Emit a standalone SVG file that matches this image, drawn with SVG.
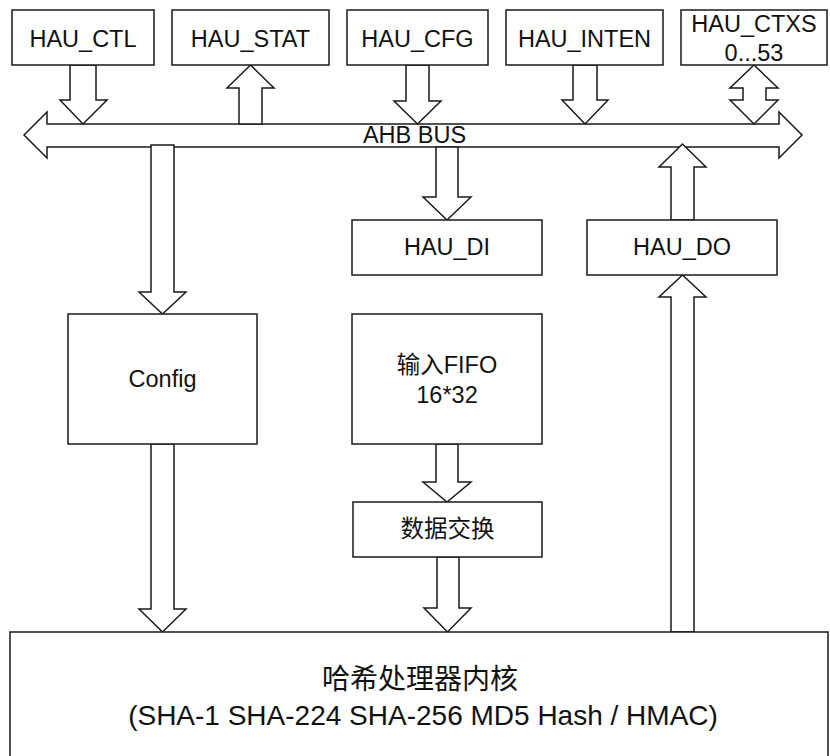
<svg xmlns="http://www.w3.org/2000/svg" width="830" height="756" viewBox="0 0 830 756">
<style>
.box{fill:#fff;stroke:#1a1a1a;stroke-width:1.5}
.arr{fill:#fff;stroke:#1a1a1a;stroke-width:1.5;stroke-linejoin:miter}
text{font-family:"Liberation Sans","Noto Sans CJK SC",Arial,sans-serif;font-size:23.5px;fill:#111;text-anchor:middle}
.big{font-size:28px}
</style>
<rect width="830" height="756" fill="#fff"/>
<g id="connectors">
<polygon id="bus" class="arr" points="24,135 47,112 47,124 779,124 779,112 802,135 779,158 779,147 47,147 47,158"/>
<polygon class="arr" points="70,65 96,65 96,100 107,100 83,124 60,100 70,100"/>
<polygon class="arr" points="239,124 239,88 227,88 250.5,65 274,88 262,88 262,124"/>
<polygon class="arr" points="406,65 429,65 429,101 441,101 417.5,124 394,101 406,101"/>
<polygon class="arr" points="573,65 597,65 597,100 608,100 585,124 562,100 573,100"/>
<polygon class="arr" points="754,65 778,88 766,88 766,100 778,100 754,124 730,100 743,100 743,88 730,88"/>
<polygon class="arr" points="151,145 174,145 174,292 186,292 162.5,314 139,292 151,292"/>
<polygon class="arr" points="151,444 174,444 174,609 186,609 162.5,632 139,609 151,609"/>
<polygon class="arr" points="436,147 458,147 458,197 471,197 447,220 423,197 436,197"/>
<polygon class="arr" points="436,444 458,444 458,482 471,482 447,502 423,482 436,482"/>
<polygon class="arr" points="437,557 459,557 459,608 471,608 447.5,632 424,608 437,608"/>
<polygon class="arr" points="671,220 671,167 659,167 682.5,144 706,167 694,167 694,220"/>
<polygon class="arr" points="671,632 671,297 659,297 682.5,275 706,297 694,297 694,632"/>
<text x="414.5" y="143">AHB BUS</text>
</g>
<g id="HAU_CTL"><rect class="box" x="12" y="10" width="142" height="55"/><text x="83" y="47">HAU_CTL</text></g>
<g id="HAU_STAT"><rect class="box" x="172" y="10" width="157" height="55"/><text x="250.5" y="47">HAU_STAT</text></g>
<g id="HAU_CFG"><rect class="box" x="347" y="10" width="141" height="55"/><text x="417.5" y="47">HAU_CFG</text></g>
<g id="HAU_INTEN"><rect class="box" x="506" y="10" width="157" height="55"/><text x="584.5" y="47">HAU_INTEN</text></g>
<g id="HAU_CTXS"><rect class="box" x="681" y="10" width="146" height="55"/><text x="754" y="32">HAU_CTXS</text><text x="754" y="61">0...53</text></g>
<g id="HAU_DI"><rect class="box" x="352" y="220" width="190" height="55"/><text x="447" y="255">HAU_DI</text></g>
<g id="HAU_DO"><rect class="box" x="587" y="220" width="190" height="55"/><text x="682" y="255">HAU_DO</text></g>
<g id="Config"><rect class="box" x="68" y="314" width="189" height="130"/><text x="162.5" y="387">Config</text></g>
<g id="FIFO"><rect class="box" x="352" y="314" width="190" height="130"/><text x="447" y="373">输入FIFO</text><text x="447" y="403">16*32</text></g>
<g id="swap"><rect class="box" x="353" y="502" width="189" height="55"/><text x="447.5" y="537">数据交换</text></g>
<g id="core"><rect class="box" x="10" y="632" width="818" height="140"/><text class="big" x="420" y="689">哈希处理器内核</text><text class="big" x="423" y="725">(SHA-1 SHA-224 SHA-256 MD5 Hash / HMAC)</text></g>
</svg>
